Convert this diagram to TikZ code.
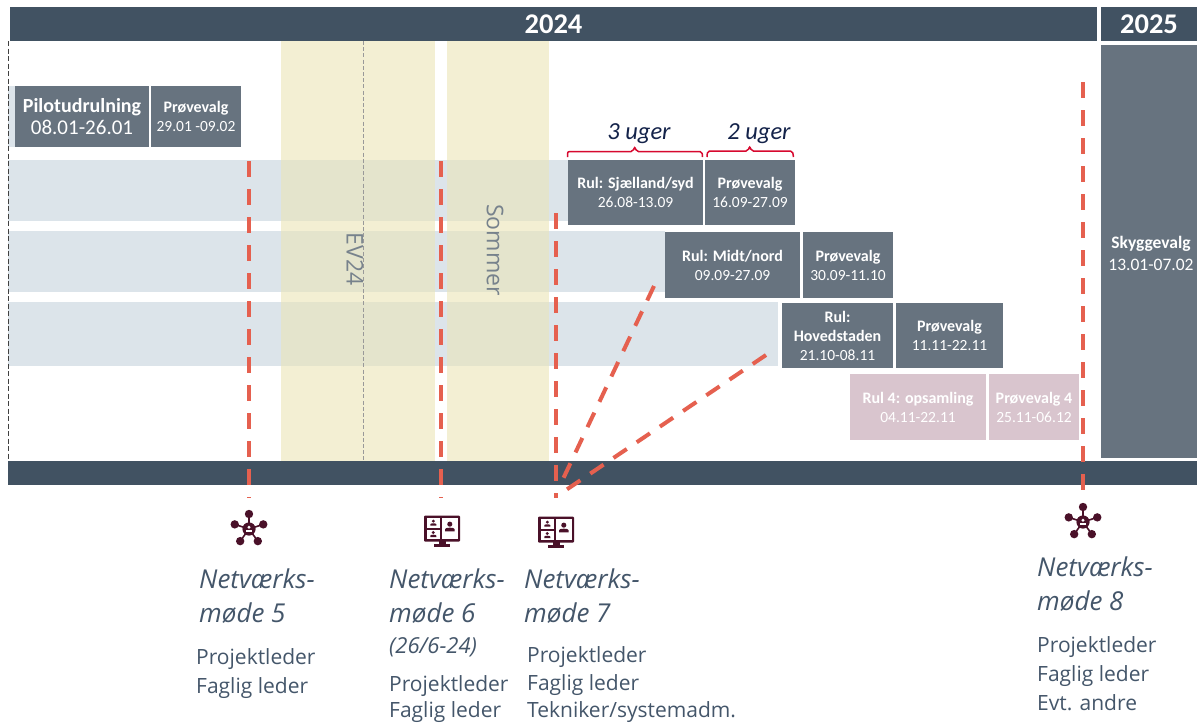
\documentclass[tikz,border=0pt]{standalone}
\usepackage{fontspec}
\setmainfont{Carlito}
\newfontfamily\ofont{Open Sans}
\usetikzlibrary{calc}
\definecolor{hdr}{HTML}{415262}
\definecolor{boxc}{HTML}{67737F}
\definecolor{band}{HTML}{DCE4EA}
\definecolor{yel}{HTML}{F3EFD3}
\definecolor{ovl}{HTML}{E4E4CC}
\definecolor{pinkc}{HTML}{D9C5CE}
\definecolor{redd}{HTML}{E5604F}
\definecolor{brc}{HTML}{D7092F}
\definecolor{ico}{HTML}{4A1129}
\definecolor{txtc}{HTML}{44566A}
\definecolor{navy}{HTML}{14234A}
\definecolor{rott}{HTML}{77828C}
\newcommand{\fs}[1]{\fontsize{#1}{#1}\selectfont}
\newcommand{\bt}[1]{{\bfseries\fontsize{16}{19}\selectfont #1}}
\newcommand{\rectnode}[6]{% style, name, x1,y1,x2,y2 -- text follows
  \node[#1,minimum width=#5pt-#3pt,minimum height=#6pt-#4pt] (#2) at ({(#3+#5)/2},{(#4+#6)/2})}
\tikzset{
  flat/.style={inner sep=0pt,outer sep=0pt,draw=none},
  boxn/.style={flat,fill=boxc,text=white,align=center,font=\fontsize{15.5}{19}\selectfont},
  pinkn/.style={flat,fill=pinkc,text=white,align=center,font=\fontsize{15.5}{19}\selectfont},
  headn/.style={flat,fill=hdr,text=white,font=\bfseries\fs{28.5}},
  bandn/.style={flat,fill=band},
  yeln/.style={flat,fill=yel},
  ovln/.style={flat,fill=ovl},
  reddash/.style={draw=redd,line width=4pt,dash pattern=on 16pt off 12pt},
  brace/.style={draw=brc,line width=1.5pt,rounded corners=2pt},
  title/.style={anchor=base west,inner sep=0pt,text=txtc,font=\ofont\itshape\fs{26}},
  role/.style={anchor=base west,inner sep=0pt,text=txtc,font=\ofont\fs{21}},
  ugern/.style={inner sep=0pt,text=navy,font=\itshape\fs{24.5}},
  rotn/.style={inner sep=0pt,rotate=-90,text=rott,font=\ofont\fs{23}},
  neticon/.pic={
    \fill[ico] (0,0) circle (6.6);
    \foreach \a in {90,18,162,-54,-126}{
      \draw[ico,line width=1.6pt] (0,0) -- ({15*cos(\a)},{-15*sin(\a)});
      \fill[ico] ({15*cos(\a)},{-15*sin(\a)}) circle (4.2);
    }
    \fill[white] (0,-1.8) circle (1.6);
    \fill[white] (-3.4,3) rectangle (3.4,0.7);
  },
  person/.pic={
    \fill[ico] (0,-2.1) circle (1.6);
    \fill[ico] (-3,2.4) -- (-3,1) .. controls (-3,-0.2) and (3,-0.2) .. (3,1) -- (3,2.4) -- cycle;
  },
  monicon/.pic={
    \fill[ico,rounded corners=1pt] (-18,-15.5) rectangle (18,10.5);
    \fill[white] (-15.5,-13) rectangle (-2,-2.8);
    \fill[white] (-15.5,-0.9) rectangle (-2,8.2);
    \fill[white] (0,-13) rectangle (15.5,8.2);
    \pic at (-8.7,-7.8) {person};
    \pic at (-8.7,3.6) {person};
    \pic[scale=1.6] at (7.8,-3.5) {person};
    \fill[ico] (-3.5,10) rectangle (3.5,14);
    \fill[ico] (-8,13) rectangle (8,15.5);
  },
}
\begin{document}
\begin{tikzpicture}[x=1pt,y=-1pt]
\useasboundingbox (0,0) rectangle (1197,723);
\fill[white] (0,0) rectangle (1197,723);
% bands
\rectnode{bandn}{b1}{8}{160}{569}{221}{};
\rectnode{bandn}{b2}{8}{231}{665}{292}{};
\rectnode{bandn}{b3}{8}{302}{778}{366}{};
\rectnode{bandn}{b0}{8}{86}{16}{147}{};
% summer columns
\rectnode{yeln}{y1}{281}{41}{435}{461}{};
\rectnode{yeln}{y2}{447}{41}{549}{461}{};
\foreach \ya/\yb in {160/221,231/292,302/366}{
  \fill[ovl] (281,\ya) rectangle (435,\yb);
  \fill[ovl] (447,\ya) rectangle (549,\yb);
}
\coordinate (ct) at (363.5,41);
\coordinate (cb) at (363.5,461);
\draw[draw=black!40,line width=0.8pt,dash pattern=on 4pt off 2.2pt] (ct) -- (cb);
\coordinate (lt) at (8.3,41);
\coordinate (lb) at (8.3,461);
\draw[draw=black!75,line width=0.7pt,dash pattern=on 5pt off 2.5pt] (lt) -- (lb);
\node[rotn] (ev) at (355,259) {EV24};
\node[rotn] (so) at (495,250) {Sommer};
% headers
\rectnode{headn}{h24}{10}{7}{1097}{41}{2024};
\rectnode{headn}{h25}{1101}{7}{1197}{41}{2025};
\rectnode{flat,fill=hdr}{foot}{8}{461}{1197}{485}{};
% boxes
\rectnode{boxn}{pilot}{15}{86}{149}{147}{{\bfseries\fontsize{20}{23}\selectfont Pilotudrulning}\\[3pt]{\fontsize{21}{23}\selectfont 08.01-26.01}};
\rectnode{boxn}{p0}{151}{86}{241}{147}{\bt{Prøvevalg}\\29.01 -09.02};
\rectnode{boxn}{r1}{568}{160}{703}{225}{\bt{Rul: Sjælland/syd}\\26.08-13.09};
\rectnode{boxn}{p1}{705}{160}{795}{225}{\bt{Prøvevalg}\\16.09-27.09};
\rectnode{boxn}{r2}{665}{232}{800}{298}{\bt{Rul: Midt/nord}\\09.09-27.09};
\rectnode{boxn}{p2}{803}{232}{893}{298}{\bt{Prøvevalg}\\30.09-11.10};
\rectnode{boxn}{r3}{782}{303}{893}{368}{\bt{Rul:}\\\bt{Hovedstaden}\\21.10-08.11};
\rectnode{boxn}{p3}{896}{303}{1003}{368}{\bt{Prøvevalg}\\11.11-22.11};
\rectnode{pinkn}{r4}{850}{374}{986}{440}{\bt{Rul 4: opsamling}\\04.11-22.11};
\rectnode{pinkn}{p4}{989}{374}{1079}{440}{\bt{Prøvevalg 4}\\25.11-06.12};
\rectnode{boxn}{sk}{1101}{45}{1197}{458}{};
\node[flat,text=white,align=center,font=\fontsize{17.5}{22}\selectfont] (sktxt) at (1151,253) {{\bfseries Skyggevalg}\\13.01-07.02};
% braces
\draw[brace] (567.5,157) -- (567.5,151.5) -- (633,151.5) -- (634.7,146.5) -- (636.4,151.5) -- (702,151.5) -- (702.5,157);
\draw[brace] (707,157) -- (707.5,151) -- (748,151) -- (749.7,146) -- (751.4,151) -- (792.5,151) -- (793.5,157);
\node[ugern] (u3) at (639,134) {3 uger};
\node[ugern] (u2) at (759,134) {2 uger};
% red dashed connectors
\coordinate (a1) at (248.5,161); \coordinate (a2) at (248.5,498);
\coordinate (b1t) at (440.5,161); \coordinate (b2t) at (440.5,498);
\coordinate (c1) at (556.3,213); \coordinate (c2) at (556.3,498);
\coordinate (d1) at (1083,82); \coordinate (d2) at (1083,492);
\coordinate (e1) at (654,286); \coordinate (e2) at (563,479);
\coordinate (f1) at (766,355); \coordinate (f2) at (566,490);
\draw[reddash] (a1) -- (a2);
\draw[reddash] (b1t) -- (b2t);
\draw[reddash] (c1) -- (c2);
\draw[reddash] (d1) -- (d2);
\draw[reddash] (e1) -- (e2);
\draw[reddash] (f1) -- (f2);
% icons
\pic at (249,529) {neticon};
\pic at (442,531) {monicon};
\pic at (556,532) {monicon};
\pic at (1083,522) {neticon};
% texts
\node[title] (t51) at (199,588) {Netværks-};
\node[title] (t52) at (199,622) {møde 5};
\node[role] (t53) at (196,664) {Projektleder};
\node[role] (t54) at (196,693) {Faglig leder};
\node[title] (t61) at (389,588) {Netværks-};
\node[title] (t62) at (389,622) {møde 6};
\node[title,font=\ofont\itshape\fs{22}] (t63) at (389,653) {(26/6-24)};
\node[role] (t64) at (389,691) {Projektleder};
\node[role] (t65) at (389,717) {Faglig leder};
\node[title] (t71) at (524,588) {Netværks-};
\node[title] (t72) at (524,622) {møde 7};
\node[role] (t73) at (527,662) {Projektleder};
\node[role] (t74) at (527,690) {Faglig leder};
\node[role] (t75) at (527,717) {Tekniker/systemadm.};
\node[title] (t81) at (1037,576) {Netværks-};
\node[title] (t82) at (1037,610) {møde 8};
\node[role] (t83) at (1037,652) {Projektleder};
\node[role] (t84) at (1037,681) {Faglig leder};
\node[role] (t85) at (1037,710) {Evt. andre};
\end{tikzpicture}
\end{document}
